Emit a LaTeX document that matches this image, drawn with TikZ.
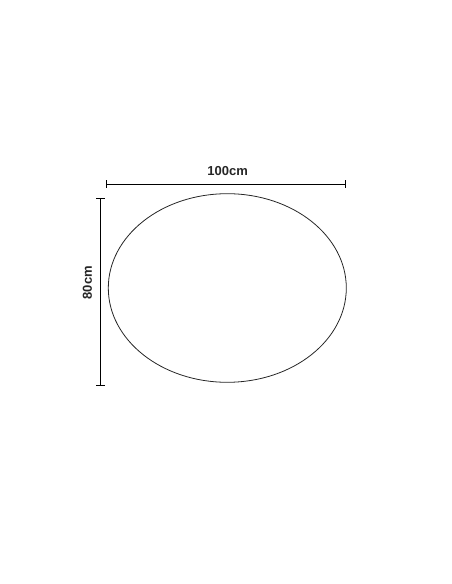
\documentclass[tikz,border=0pt]{standalone}
\usepackage{fontspec}
\setmainfont{Liberation Sans}
\usetikzlibrary{shapes.geometric}
\begin{document}
\begin{tikzpicture}[x=1pt,y=1pt,
  dimline/.style={line width=0.9pt,black},
  dimlabel/.style={font=\fontsize{13}{13}\selectfont\bfseries,text=black!85,inner sep=0pt},
  outline/.style={draw=black!85,line width=0.8pt}]
\useasboundingbox (0,0) rectangle (452,584);
% ellipse (center 227.3, 288 -> tikz y 296)
\node[ellipse,outline,minimum width=238pt,minimum height=188.6pt,inner sep=0pt] (table) at (227.3,296) {};
% horizontal dimension
\coordinate (hL) at (106.3,400);
\coordinate (hR) at (345.7,400);
\draw[dimline] (hL) -- (hR);
\draw[dimline] ([yshift=-3.6pt]hL) -- ([yshift=3.6pt]hL);
\draw[dimline] ([yshift=-3.6pt]hR) -- ([yshift=3.6pt]hR);
\node[dimlabel] (wlab) at (227.7,413.3) {100cm};
% vertical dimension
\coordinate (vT) at (100.7,385.3);
\coordinate (vB) at (100.7,198.3);
\draw[dimline] (vT) -- (vB);
\draw[dimline] ([xshift=-4.6pt]vT) -- ([xshift=4.6pt]vT);
\draw[dimline] ([xshift=-4.6pt]vB) -- ([xshift=4.6pt]vB);
\node[dimlabel,rotate=90] (hlab) at (87.3,301.3) {80cm};
\end{tikzpicture}
\end{document}
